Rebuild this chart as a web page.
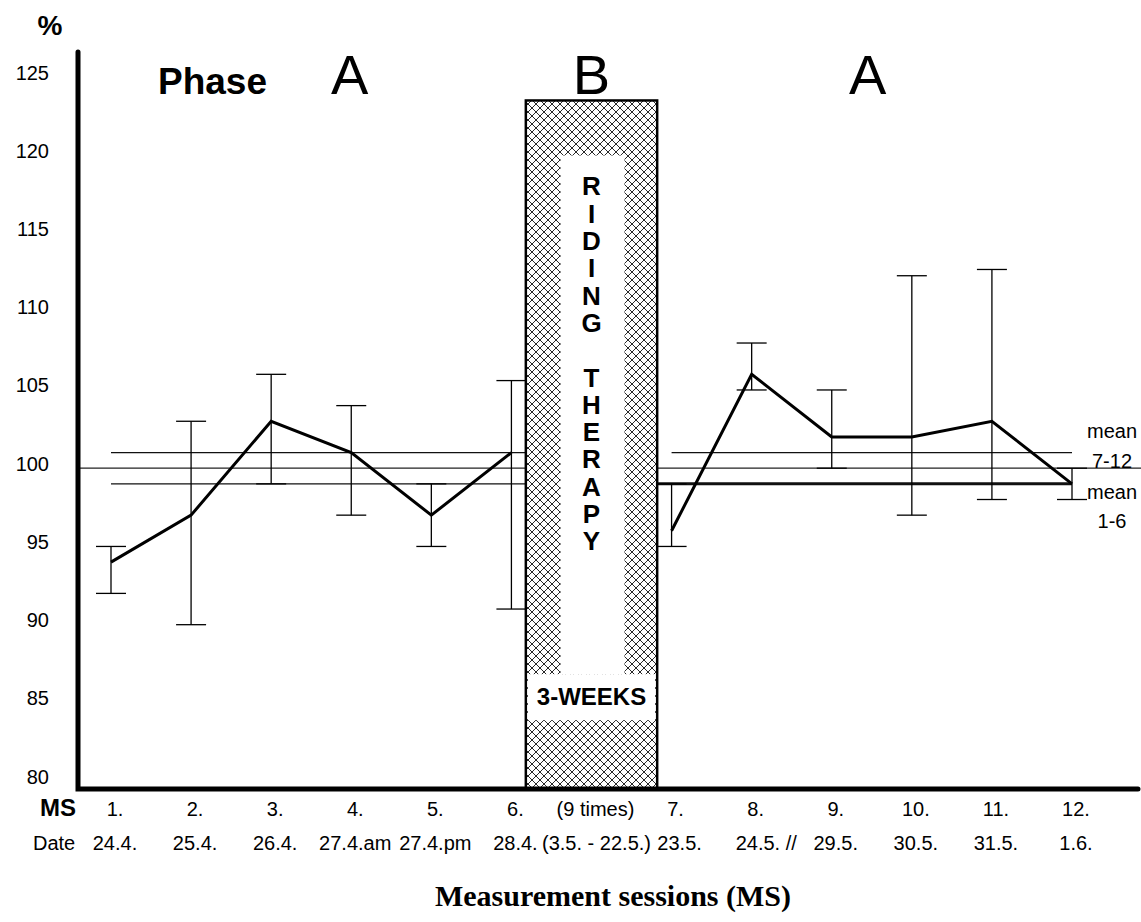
<!DOCTYPE html>
<html>
<head>
<meta charset="utf-8">
<script src="https://cdn.jsdelivr.net/npm/d3@7"></script>
<style>
  body { margin: 0; background: #fff; }
  text { font-family: 'Liberation Sans', Arial, sans-serif; fill: #000; }
</style>
</head>
<body>
<div id="chart"></div>
<script>
// session labels, dates and values
var sessions = ['1.', '2.', '3.', '4.', '5.', '6.', '7.', '8.', '9.', '10.', '11.', '12.']
var dates = ['24.4.', '25.4.', '26.4.', '27.4.am', '27.4.pm', '28.4.', '23.5.', '24.5. //', '29.5.', '30.5.', '31.5.', '1.6.']
var values = [94, 97, 103, 101, 97, 101, 96, 106, 102, 102, 103, 99]
var errHigh = [95, 103, 106, 104, 99, 105.6, 99, 108, 105, 112.3, 112.7, 100]
var errLow = [92, 90, 99, 97, 95, 91, 95, 105, 100, 97, 98, 98]
var yTicks = [80, 85, 90, 95, 100, 105, 110, 115, 120, 125]
var therapyLetters = ['R', 'I', 'D', 'I', 'N', 'G', '', 'T', 'H', 'E', 'R', 'A', 'P', 'Y']
var baseline = 100
var mean1to6 = 99
var mean7to12 = 101

;(function() {
  var width = 1141
  var height = 922

  var svg = d3
    .select('#chart')
    .append('svg')
    .attr('width', width)
    .attr('height', height)

  // slot 7 is the riding therapy block between session 6 and 7
  var slot = i => (i < 6 ? i + 1 : i + 2)
  var therapySlot = 7

  var xPositionScale = d3
    .scaleLinear()
    .domain([1, 13])
    .range([111, 1072])

  var yPositionScale = d3
    .scaleLinear()
    .domain([79.5, 125])
    .range([789, 77])

  var axisX = 78
  var axisBottom = yPositionScale.range()[0]
  var unit = xPositionScale(2) - xPositionScale(1)

  // hatch pattern for the therapy block
  var defs = svg.append('defs')
  var pattern = defs
    .append('pattern')
    .attr('id', 'hatch')
    .attr('patternUnits', 'userSpaceOnUse')
    .attr('width', 8)
    .attr('height', 8)
  pattern
    .append('rect')
    .attr('width', 8)
    .attr('height', 8)
    .attr('fill', '#fff')
  pattern
    .append('path')
    .attr('d', 'M0,0L8,8M8,0L0,8')
    .attr('stroke', '#111')
    .attr('stroke-width', 0.9)

  // reference lines
  svg
    .append('line')
    .attr('x1', axisX)
    .attr('x2', width)
    .attr('y1', yPositionScale(baseline))
    .attr('y2', yPositionScale(baseline))
    .attr('stroke', '#222')
    .attr('stroke-width', 1.3)

  var meanLines = [
    { v: mean7to12, from: 1, to: therapySlot, w: 1.3 },
    { v: mean1to6, from: 1, to: therapySlot, w: 1.3 },
    { v: mean7to12, from: 8, to: 13, w: 1.3 },
    { v: mean1to6, from: therapySlot, to: 13, w: 3 }
  ]
  svg
    .selectAll('.mean-line')
    .data(meanLines)
    .enter()
    .append('line')
    .attr('class', 'mean-line')
    .attr('x1', d => xPositionScale(d.from))
    .attr('x2', d => xPositionScale(d.to))
    .attr('y1', d => yPositionScale(d.v))
    .attr('y2', d => yPositionScale(d.v))
    .attr('stroke', '#111')
    .attr('stroke-width', d => d.w)

  // therapy block
  var boxLeft = xPositionScale(therapySlot) - unit * 0.82
  var boxRight = xPositionScale(therapySlot) + unit * 0.82
  var boxTop = yPositionScale(123.5)
  svg
    .append('rect')
    .attr('x', boxLeft)
    .attr('y', boxTop)
    .attr('width', boxRight - boxLeft)
    .attr('height', axisBottom - boxTop)
    .attr('fill', 'url(#hatch)')
    .attr('stroke', '#000')
    .attr('stroke-width', 2.5)

  var innerTop = boxTop + 55
  var letterStep = 27.3
  var bandTop = innerTop + letterStep * 19
  svg
    .append('rect')
    .attr('x', xPositionScale(therapySlot) - 31)
    .attr('y', innerTop)
    .attr('width', 64)
    .attr('height', bandTop - innerTop)
    .attr('fill', '#fff')
  svg
    .append('rect')
    .attr('x', boxLeft + 2)
    .attr('y', bandTop)
    .attr('width', boxRight - boxLeft - 4)
    .attr('height', 46)
    .attr('fill', '#fff')

  svg
    .selectAll('.therapy-letter')
    .data(therapyLetters)
    .enter()
    .append('text')
    .attr('class', 'therapy-letter')
    .attr('x', xPositionScale(therapySlot))
    .attr('y', (d, i) => innerTop + 40 + i * letterStep)
    .attr('text-anchor', 'middle')
    .style('font-size', '26px')
    .style('font-weight', 'bold')
    .text(d => d)

  svg
    .append('text')
    .attr('x', xPositionScale(therapySlot))
    .attr('y', bandTop + 31)
    .attr('text-anchor', 'middle')
    .style('font-size', '24px')
    .style('font-weight', 'bold')
    .text('3-WEEKS')

  // error bars
  var capHalf = 15
  var bars = svg
    .selectAll('.err')
    .data(values)
    .enter()
    .append('g')
    .attr('class', 'err')
  bars
    .append('line')
    .attr('x1', (d, i) => xPositionScale(slot(i)))
    .attr('x2', (d, i) => xPositionScale(slot(i)))
    .attr('y1', (d, i) => yPositionScale(errHigh[i]))
    .attr('y2', (d, i) => yPositionScale(errLow[i]))
    .attr('stroke', '#000')
    .attr('stroke-width', 1.3)
  bars
    .append('line')
    .attr('x1', (d, i) => xPositionScale(slot(i)) - capHalf)
    .attr('x2', (d, i) => xPositionScale(slot(i)) + capHalf)
    .attr('y1', (d, i) => yPositionScale(errHigh[i]))
    .attr('y2', (d, i) => yPositionScale(errHigh[i]))
    .attr('stroke', '#000')
    .attr('stroke-width', 1.3)
  bars
    .append('line')
    .attr('x1', (d, i) => xPositionScale(slot(i)) - capHalf)
    .attr('x2', (d, i) => xPositionScale(slot(i)) + capHalf)
    .attr('y1', (d, i) => yPositionScale(errLow[i]))
    .attr('y2', (d, i) => yPositionScale(errLow[i]))
    .attr('stroke', '#000')
    .attr('stroke-width', 1.3)

  // the two data lines, before and after therapy
  var line = d3
    .line()
    .x(d => xPositionScale(d.slot))
    .y(d => yPositionScale(d.v))
  var points = values.map((v, i) => ({ v: v, slot: slot(i) }))
  svg
    .selectAll('.series')
    .data([points.slice(0, 6), points.slice(6)])
    .enter()
    .append('path')
    .attr('class', 'series')
    .attr('d', line)
    .attr('fill', 'none')
    .attr('stroke', '#000')
    .attr('stroke-width', 3)
    .attr('stroke-linejoin', 'miter')

  // axes frame
  svg
    .append('path')
    .attr('d', 'M' + axisX + ',52V' + axisBottom + 'H1138')
    .attr('fill', 'none')
    .attr('stroke', '#000')
    .attr('stroke-width', 5)
    .attr('stroke-linecap', 'round')

  var yAxis = d3
    .axisLeft(yPositionScale)
    .tickValues(yTicks)
    .tickSize(0)
    .tickPadding(29)
  svg
    .append('g')
    .attr('class', 'axis y-axis')
    .attr('transform', 'translate(' + axisX + ',0)')
    .call(yAxis)
    .call(g => g.select('.domain').remove())
    .selectAll('text')
    .attr('dy', '0.1em')
    .style('font-size', '20px')
    .style('font-family', "'Liberation Sans', Arial, sans-serif")

  svg
    .append('text')
    .attr('x', 50)
    .attr('y', 35)
    .attr('text-anchor', 'middle')
    .style('font-size', '28px')
    .style('font-weight', 'bold')
    .text('%')

  // phase headings
  svg
    .append('text')
    .attr('x', 158)
    .attr('y', 94)
    .style('font-size', '37px')
    .style('font-weight', 'bold')
    .text('Phase')
  var phases = [
    { label: 'A', slot: 3.98 },
    { label: 'B', slot: therapySlot },
    { label: 'A', slot: 10.45 }
  ]
  svg
    .selectAll('.phase')
    .data(phases)
    .enter()
    .append('text')
    .attr('class', 'phase')
    .attr('x', d => xPositionScale(d.slot))
    .attr('y', 94)
    .attr('text-anchor', 'middle')
    .style('font-size', '56px')
    .text(d => d.label)

  // mean labels
  var meanLabels = [
    { t: 'mean', v: mean7to12, dy: -15 },
    { t: '7-12', v: mean7to12, dy: 15 },
    { t: 'mean', v: mean1to6, dy: 15 },
    { t: '1-6', v: mean1to6, dy: 44 }
  ]
  svg
    .selectAll('.mean-label')
    .data(meanLabels)
    .enter()
    .append('text')
    .attr('class', 'mean-label')
    .attr('x', 1112)
    .attr('y', d => yPositionScale(d.v) + d.dy)
    .attr('text-anchor', 'middle')
    .style('font-size', '20px')
    .text(d => d.t)

  // session and date rows
  var msRow = 816
  var dateRow = 850
  svg
    .append('text')
    .attr('x', 40)
    .attr('y', msRow)
    .style('font-size', '24px')
    .style('font-weight', 'bold')
    .text('MS')
  svg
    .append('text')
    .attr('x', 33)
    .attr('y', dateRow)
    .style('font-size', '20px')
    .text('Date')

  svg
    .selectAll('.ms-label')
    .data(sessions)
    .enter()
    .append('text')
    .attr('class', 'ms-label')
    .attr('x', (d, i) => xPositionScale(slot(i)) + 4)
    .attr('y', msRow)
    .attr('text-anchor', 'middle')
    .style('font-size', '20px')
    .text(d => d)

  svg
    .selectAll('.date-label')
    .data(dates)
    .enter()
    .append('text')
    .attr('class', 'date-label')
    .attr('x', (d, i) => xPositionScale(slot(i)) + (i === 6 ? 8 : 4))
    .attr('y', dateRow)
    .attr('text-anchor', (d, i) => (i === 7 ? 'start' : 'middle'))
    .attr('dx', (d, i) => (i === 7 ? -20 : 0))
    .style('font-size', '20px')
    .text(d => d)

  svg
    .append('text')
    .attr('x', xPositionScale(therapySlot) + 4)
    .attr('y', msRow)
    .attr('text-anchor', 'middle')
    .style('font-size', '20px')
    .text('(9 times)')
  svg
    .append('text')
    .attr('x', xPositionScale(therapySlot) + 5)
    .attr('y', dateRow)
    .attr('text-anchor', 'middle')
    .style('font-size', '20px')
    .text('(3.5. - 22.5.)')

  svg
    .append('text')
    .attr('x', 613)
    .attr('y', 906)
    .attr('text-anchor', 'middle')
    .style('font-family', "'Liberation Serif', 'Times New Roman', serif")
    .style('font-size', '30px')
    .style('font-weight', 'bold')
    .text('Measurement sessions (MS)')
})()
</script>
</body>
</html>
